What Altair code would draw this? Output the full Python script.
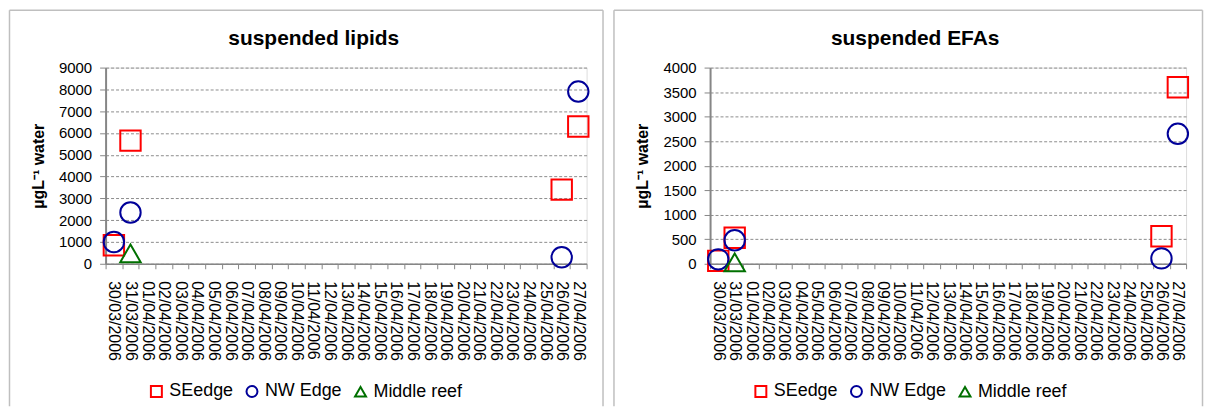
import altair as alt
import pandas as pd

# x categories (one band per day)
dates = ["30/03/2006", "31/03/2006", "01/04/2006", "02/04/2006", "03/04/2006",
         "04/04/2006", "05/04/2006", "06/04/2006", "07/04/2006", "08/04/2006",
         "09/04/2006", "10/04/2006", "11/04/2006", "12/04/2006", "13/04/2006",
         "14/04/2006", "15/04/2006", "16/04/2006", "17/04/2006", "18/04/2006",
         "19/04/2006", "20/04/2006", "21/04/2006", "22/04/2006", "23/04/2006",
         "24/04/2006", "25/04/2006", "26/04/2006", "27/04/2006"]

series = ["SEedge", "NW Edge", "Middle reef"]
series_colors = ["#FF0000", "#000099", "#007000"]
series_shapes = ["square", "circle", "triangle-up"]

edge_dates = ["30/03/2006", "31/03/2006", "26/04/2006", "27/04/2006"]
middle_dates = ["31/03/2006"]

lipids_se = [850, 5650, 3400, 6300]
lipids_nw = [1000, 2350, 300, 7900]
lipids_mr = [480]

efas_se = [60, 530, 560, 3600]
efas_nw = [90, 480, 110, 2650]
efas_mr = [30]


def make_df(se, nw, mr):
    rows = []
    for d, v in zip(edge_dates, se):
        rows.append({"date": d, "value": v, "series": "SEedge"})
    for d, v in zip(edge_dates, nw):
        rows.append({"date": d, "value": v, "series": "NW Edge"})
    for d, v in zip(middle_dates, mr):
        rows.append({"date": d, "value": v, "series": "Middle reef"})
    return pd.DataFrame(rows)


FONT = "Liberation Sans"
BORDER = "#BFBFBF"
AXIS_GREY = "#868686"


def panel(df, title, ymax, ystep, pw, title_x):
    legend = alt.Legend(
        title=None, orient="none", legendX=42, legendY=316, direction="horizontal",
        labelFontSize=18, labelFont=FONT, labelColor="black", symbolSize=121,
        symbolStrokeWidth=2, labelOffset=4, columnPadding=8,
    )
    points = alt.Chart(df).mark_point(filled=False, size=420, strokeWidth=2, opacity=1).encode(
        x=alt.X("date:O",
                scale=alt.Scale(type="band", domain=dates, paddingInner=0, paddingOuter=0),
                axis=alt.Axis(title=None, labelAngle=90, labelAlign="left", labelBaseline="middle",
                              labelFontSize=16, labelFont=FONT, labelColor="black",
                              labelPadding=12, tickSize=5, tickBand="extent",
                              domainColor=AXIS_GREY, tickColor=AXIS_GREY, domainWidth=1.5,
                              labelOverlap=False, grid=False)),
        y=alt.Y("value:Q",
                scale=alt.Scale(domain=[0, ymax], nice=False, zero=True),
                axis=alt.Axis(values=list(range(0, ymax + 1, ystep)), format="d",
                              title="µgL⁻¹ water",
                              titleFontSize=16, titleFontWeight="bold", titleFont=FONT,
                              titleColor="black", titlePadding=12,
                              labelFontSize=15, labelFont=FONT, labelColor="black",
                              labelPadding=8, tickSize=6, grid=True, gridDash=[3, 2],
                              gridColor="#8C8C8C", gridWidth=1, domainColor=AXIS_GREY,
                              domainWidth=2, tickColor=AXIS_GREY)),
        color=alt.Color("series:N", scale=alt.Scale(domain=series, range=series_colors), legend=legend),
        shape=alt.Shape("series:N", scale=alt.Scale(domain=series, range=series_shapes), legend=legend),
    )
    one = pd.DataFrame({"t": [title]})
    title_mark = alt.Chart(one).mark_text(
        fontSize=21, fontWeight="bold", font=FONT, align="center", baseline="middle", color="black"
    ).encode(text="t:N", x=alt.value(title_x), y=alt.value(-29))
    left = -96.5
    right = pw + 16.5
    top = -57.5
    bottom = 340
    b_left = alt.Chart(one).mark_rule(color=BORDER, strokeWidth=1.5).encode(
        x=alt.value(left), y=alt.value(top), y2=alt.value(bottom))
    b_top = alt.Chart(one).mark_rule(color=BORDER, strokeWidth=1.5).encode(
        x=alt.value(left), x2=alt.value(right), y=alt.value(top))
    b_right = alt.Chart(one).mark_rule(color=BORDER, strokeWidth=1.5).encode(
        x=alt.value(right), y=alt.value(top), y2=alt.value(bottom))
    return alt.layer(b_left, b_top, b_right, title_mark, points).properties(width=pw, height=197)


left_panel = panel(make_df(lipids_se, lipids_nw, lipids_mr), "suspended lipids", 9000, 1000, 483, 209)
right_panel = panel(make_df(efas_se, efas_nw, efas_mr), "suspended EFAs", 4000, 500, 478, 206)

chart = alt.hconcat(left_panel, right_panel, spacing=8).resolve_scale(
    color="independent", shape="independent", x="independent", y="independent"
).properties(padding=0).configure_view(stroke=None).configure(font=FONT)

chart.save("out.html", embed_options={"renderer": "svg", "actions": False})
